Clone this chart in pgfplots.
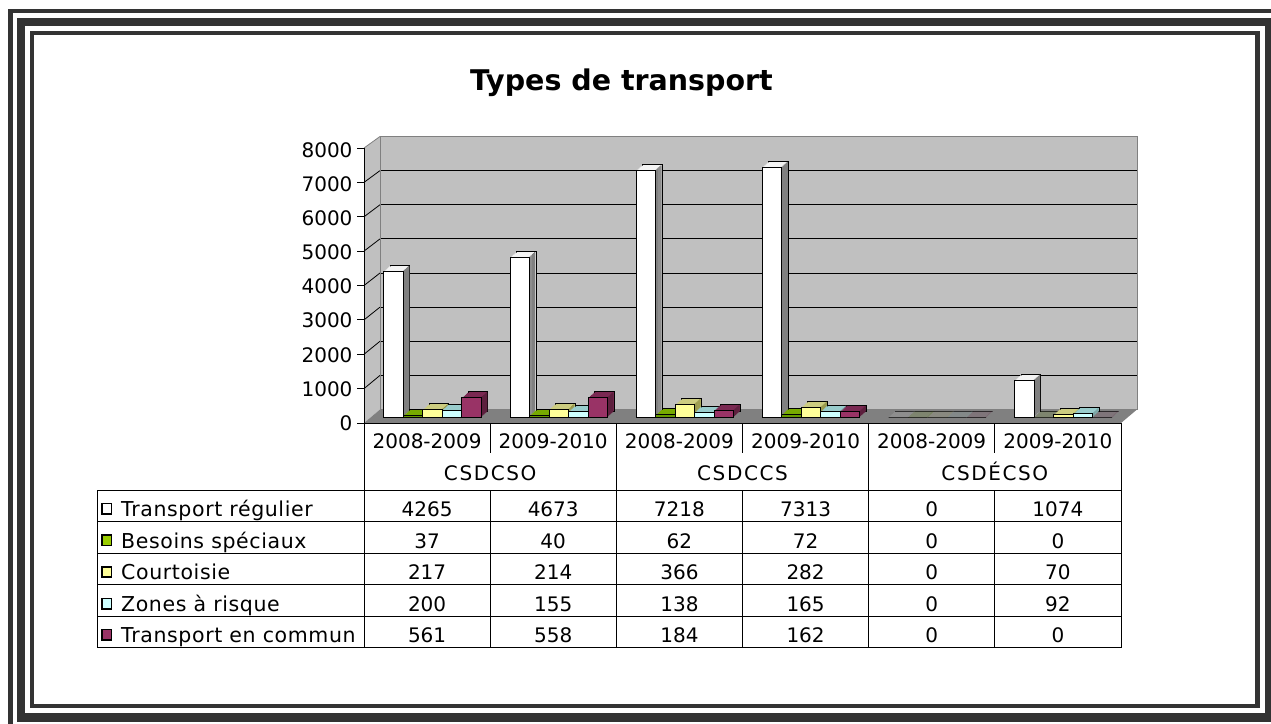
\documentclass[border=0pt]{standalone}
\usepackage{pgfplots}
\pgfplotsset{compat=1.18}
\usepackage{pgfplotstable}
\usepackage{fontspec}
\setmainfont{DejaVu Sans}

\definecolor{wallgray}{HTML}{C0C0C0}
\definecolor{floorgray}{HTML}{808080}
\definecolor{framec}{HTML}{333333}
\definecolor{wfront}{HTML}{FFFFFF}
\definecolor{wtop}{HTML}{F4F4F4}
\definecolor{wside}{HTML}{808080}
\definecolor{gfront}{HTML}{669900}
\definecolor{gtop}{HTML}{77AA00}
\definecolor{gside}{HTML}{4D7300}
\definecolor{yfront}{HTML}{FFFF99}
\definecolor{ytop}{HTML}{CCCC80}
\definecolor{yside}{HTML}{99994D}
\definecolor{cfront}{HTML}{CCFFFF}
\definecolor{ctop}{HTML}{99CCCC}
\definecolor{cside}{HTML}{7AA3A3}
\definecolor{mfront}{HTML}{993366}
\definecolor{mtop}{HTML}{7A2952}
\definecolor{mside}{HTML}{5C1F3D}
\definecolor{glegend}{HTML}{99CC00}

\pgfplotstableread{
x reg bes cou zon com
0 4265 37 217 200 561
1 4673 40 214 155 558
2 7218 62 366 138 184
3 7313 72 282 165 162
4 0 0 0 0 0
5 1074 0 70 92 0
}\data

% top-face copies (full bar, shifted back by k)
\newcommand{\tcopy}[4]{%
 \addplot[bar shift=#2, fill=#3, draw=none, xshift=#4*1.08pt, yshift=-7.5pt+#4pt] table[x=x,y=#1]{\data};}
% side-face copies (narrow strip at right edge, shifted back by k)
\newcommand{\scopy}[4]{%
 \addplot[bar shift=#2+9.25pt, bar width=1.3pt, fill=#3, draw=none, xshift=#4*1.08pt, yshift=-7.5pt+#4pt] table[x=x,y=#1]{\data};}

\newcommand{\bars}[5]{%
 \addplot[bar shift=#2, fill=#4, draw=black, line width=1pt, xshift=6.5pt, yshift=-1.5pt] table[x=x,y=#1]{\data};
 \tcopy{#1}{#2}{#4}{5}\tcopy{#1}{#2}{#4}{4}\tcopy{#1}{#2}{#4}{3}\tcopy{#1}{#2}{#4}{2}\tcopy{#1}{#2}{#4}{1}%
 \scopy{#1}{#2}{#5}{5.4}\scopy{#1}{#2}{#5}{4.5}\scopy{#1}{#2}{#5}{3.6}\scopy{#1}{#2}{#5}{2.7}\scopy{#1}{#2}{#5}{1.8}\scopy{#1}{#2}{#5}{0.9}%
 \addplot[bar shift=#2, fill=#3, draw=black, line width=1pt, yshift=-7.5pt] table[x=x,y=#1]{\data};
}

\newcommand{\tf}{\fontsize{20}{22}\selectfont}
\newcommand{\lf}{\fontsize{20.5}{22}\selectfont\addfontfeature{LetterSpace=3}}

\begin{document}
\begin{tikzpicture}
\begin{scope}[x=1pt,y=-1pt]
\useasboundingbox (0,0) rectangle (1271,723);
% frame
\draw[framec, line width=4.5pt] (10.6,11.2) rectangle (1279.5,728);
\draw[framec, line width=8.3pt] (20.8,21.8) rectangle (1269,717.5);
\draw[framec, line width=4.3pt] (32.2,33) rectangle (1257.5,705.8);
% title
\node[anchor=base, font=\fontsize{28.5}{30}\selectfont\bfseries] at (621.5,90.7) {Types de transport};
% left wall and floor
\fill[wallgray] (364,148) -- (380,136.5) -- (380,409.5) -- (364,423) -- cycle;
\draw[gray, line width=0.8pt] (364,148) -- (380,136.5);
\fill[floorgray] (364,423) -- (380,409.5) -- (1137,409.5) -- (1121,423) -- cycle;
\foreach \i in {1,...,7} \draw[black, line width=0.8pt] (364,{423-\i*34.375}) -- (380,{409.5-\i*34.125});
\foreach \i in {0,...,8} \draw[black, line width=0.8pt] (357,{423-\i*34.375}) -- (364,{423-\i*34.375});
\end{scope}

\begin{axis}[
  at={(380pt,-409.5pt)}, anchor=south west,
  scale only axis, width=757pt, height=273pt,
  xmin=-0.5, xmax=5.5, ymin=0, ymax=8000,
  xtick=\empty,
  ytick={0,1000,...,8000},
  ymajorgrids,
  major grid style={black, line width=0.8pt},
  axis background/.style={fill=wallgray},
  axis line style={draw=gray, line width=0.8pt},
  ytick style={draw=none},
  yticklabel style={font=\tf, anchor=east, xshift=-24pt, yshift=-13.5pt},
  /pgf/number format/assume math mode=true,
  /pgf/number format/1000 sep={},
  scaled y ticks=false,
  ybar, bar width=19.5pt,
  clip=false,
]
\bars{reg}{-49.5pt}{wfront}{wtop}{wside}
\bars{bes}{-30pt}{gfront}{gtop}{gside}
\bars{cou}{-10.5pt}{yfront}{ytop}{yside}
\bars{zon}{9pt}{cfront}{ctop}{cside}
\bars{com}{28.5pt}{mfront}{mtop}{mside}
\end{axis}

\begin{scope}[x=1pt,y=-1pt]
% table lines
\draw[black, line width=1pt] (364,423) -- (1121,423);
\draw[black, line width=1pt] (364,148) -- (364,647.5);
\foreach \xx in {616.3,868.7,1121} \draw[black, line width=1pt] (\xx,423) -- (\xx,647.5);
\foreach \xx in {490.2,742.5,994.8} {\draw[black, line width=1pt] (\xx,423) -- (\xx,453); \draw[black, line width=1pt] (\xx,490) -- (\xx,647.5);}
\draw[black, line width=1pt] (97,490) -- (97,647.5);
\foreach \yy in {490,521.5,553,584.7,616.3,647.5} \draw[black, line width=1pt] (97,\yy) -- (1121,\yy);
% year labels
\foreach \c/\t in {427.1/2008-2009,553.2/2009-2010,679.4/2008-2009,805.6/2009-2010,931.7/2008-2009,1057.9/2009-2010}
  \node[anchor=base, font=\tf, inner sep=0pt] at (\c,448.3) {\t};
\node[anchor=base, font=\tf\addfontfeature{LetterSpace=8}, inner sep=0pt] at (490.2,480) {CSDCSO};
\node[anchor=base, font=\tf\addfontfeature{LetterSpace=8}, inner sep=0pt] at (742.5,480) {CSDCCS};
\node[anchor=base, font=\tf\addfontfeature{LetterSpace=8}, inner sep=0pt] at (994.8,480) {CSDÉCSO};
% legend column
\foreach \b/\col/\t in {516.5/white/Transport régulier,548/glegend/Besoins spéciaux,579.7/yfront/Courtoisie,611.3/cfront/Zones à risque,642.5/mfront/Transport en commun} {
  \filldraw[fill=\col, draw=black, line width=1.6pt] (102,\b-13) rectangle (111.5,\b-2.5);
  \node[anchor=base west, font=\lf, inner sep=0pt] at (121,\b) {\t};
}
% values
\foreach \b/\va/\vb/\vc/\vd/\ve/\vf in {516.5/4265/4673/7218/7313/0/1074,548/37/40/62/72/0/0,579.7/217/214/366/282/0/70,611.3/200/155/138/165/0/92,642.5/561/558/184/162/0/0} {
  \node[anchor=base, font=\tf, inner sep=0pt] at (427.1,\b) {\va};
  \node[anchor=base, font=\tf, inner sep=0pt] at (553.2,\b) {\vb};
  \node[anchor=base, font=\tf, inner sep=0pt] at (679.4,\b) {\vc};
  \node[anchor=base, font=\tf, inner sep=0pt] at (805.6,\b) {\vd};
  \node[anchor=base, font=\tf, inner sep=0pt] at (931.7,\b) {\ve};
  \node[anchor=base, font=\tf, inner sep=0pt] at (1057.9,\b) {\vf};
}
\end{scope}
\end{tikzpicture}
\end{document}
